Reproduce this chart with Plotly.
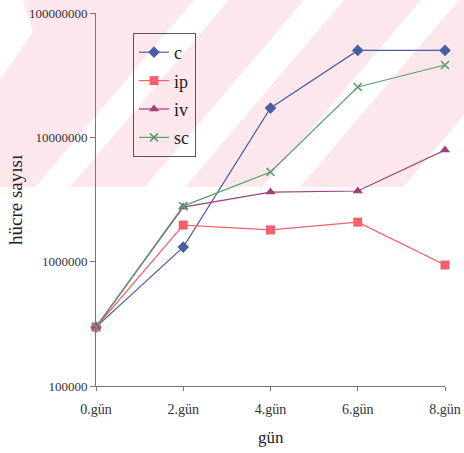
import plotly.graph_objects as go

# ---- data ----
days = ["0.gün", "2.gün", "4.gün", "6.gün", "8.gün"]
c_vals = [298000, 1310000, 17200000, 50000000, 50000000]
ip_vals = [298000, 1970000, 1800000, 2080000, 940000]
iv_vals = [298000, 2750000, 3630000, 3700000, 7900000]
sc_vals = [298000, 2800000, 5260000, 25400000, 38200000]
y_tick_vals = [100000, 1000000, 10000000, 100000000]
y_tick_text = ["100000", "1000000", "10000000", "100000000"]
x_title = "gün"
y_title = "hücre sayısı"

W, H = 464, 453
L, R, T, B = 96, 19, 13, 67
PW, PH = W - L - R, H - T - B

FONT = "Liberation Serif"

def px2paper(x, y):
    return (x - L) / PW, (H - B - y) / PH

def poly(points, color):
    parts = []
    for i, (x, y) in enumerate(points):
        xp, yp = px2paper(x, y)
        parts.append(("M" if i == 0 else "L") + f"{xp:.5f},{yp:.5f}")
    return dict(type="path", xref="paper", yref="paper", path=" ".join(parts) + " Z",
                fillcolor=color, line=dict(width=0), layer="below")

PINK = "#fce8ec"
WHITE = "#ffffff"
shapes = [poly([(0, 0), (W, 0), (W, 187), (0, 187)], PINK)]
# white diagonal gaps of the watermark
for xl, xr in [(35, 70), (145, 185), (262, 300), (403, 700)]:
    k = 0.85 * 187
    shapes.append(poly([(xl, 187), (xr, 187), (xr + k, 0), (xl + k, 0)], WHITE))
shapes.append(poly([(0, 0), (23, 0), (33, 32), (0, 80)], WHITE))

fig = go.Figure()
x = list(range(len(days)))
series = [
    ("c", c_vals, "#4a5ea6", "diamond", 9),
    ("ip", ip_vals, "#f4606c", "square", 9),
    ("iv", iv_vals, "#a23f7c", "triangle-up", 9),
    ("sc", sc_vals, "#5a9e6c", "x-thin", 8),
]
for name, vals, col, sym, sz in series:
    fig.add_trace(go.Scatter(
        x=x, y=vals, name=name, mode="lines+markers", cliponaxis=False,
        legendgroup=name,
        line=dict(color=col, width=1.2),
        marker=dict(symbol=sym, size=sz, color=col, line=dict(color=col, width=1.6 if sym == "x-thin" else 0)),
    ))

xt, yt = px2paper(271, 437)
xy, yy = px2paper(15, 200)
fig.update_layout(
    width=W, height=H,
    margin=dict(l=L, r=R, t=T, b=B),
    paper_bgcolor="white", plot_bgcolor="rgba(0,0,0,0)",
    font=dict(family=FONT, color="#333333"),
    shapes=shapes,
    showlegend=True,
    legend=dict(
        x=(133 - L) / PW, y=(H - B - 33) / PH, xanchor="left", yanchor="top",
        bgcolor="rgba(0,0,0,0)", bordercolor="#555555", borderwidth=1,
        font=dict(family=FONT, size=18, color="#222222"),
        tracegroupgap=2, itemwidth=30,
    ),
    xaxis=dict(
        range=[0, 4], tickmode="array", tickvals=x, ticktext=days, automargin=False,
        showgrid=False, zeroline=False, showline=True, linecolor="#777777", linewidth=1,
        ticks="outside", ticklen=4, tickcolor="#777777", ticklabelstandoff=6,
        tickfont=dict(family=FONT, size=14, color="#333333"),
    ),
    yaxis=dict(
        type="log", range=[5, 8], tickmode="array", tickvals=y_tick_vals, ticktext=y_tick_text,
        automargin=False,
        showgrid=False, zeroline=False, showline=True, linecolor="#777777", linewidth=1,
        ticks="outside", ticklen=5, tickcolor="#777777",
        tickfont=dict(family=FONT, size=13, color="#333333"),
    ),
    annotations=[
        dict(text=x_title, x=xt, y=yt, xref="paper", yref="paper", showarrow=False,
             xanchor="center", yanchor="middle",
             font=dict(family=FONT, size=17, color="#222222")),
        dict(text=y_title, x=xy, y=yy, xref="paper", yref="paper", showarrow=False,
             xanchor="center", yanchor="middle", textangle=-90,
             font=dict(family=FONT, size=19, color="#222222")),
    ],
)

fig.write_html("out.html", config={"displayModeBar": False},
               post_script="document.body.style.margin='0';document.body.style.overflow='hidden';")
